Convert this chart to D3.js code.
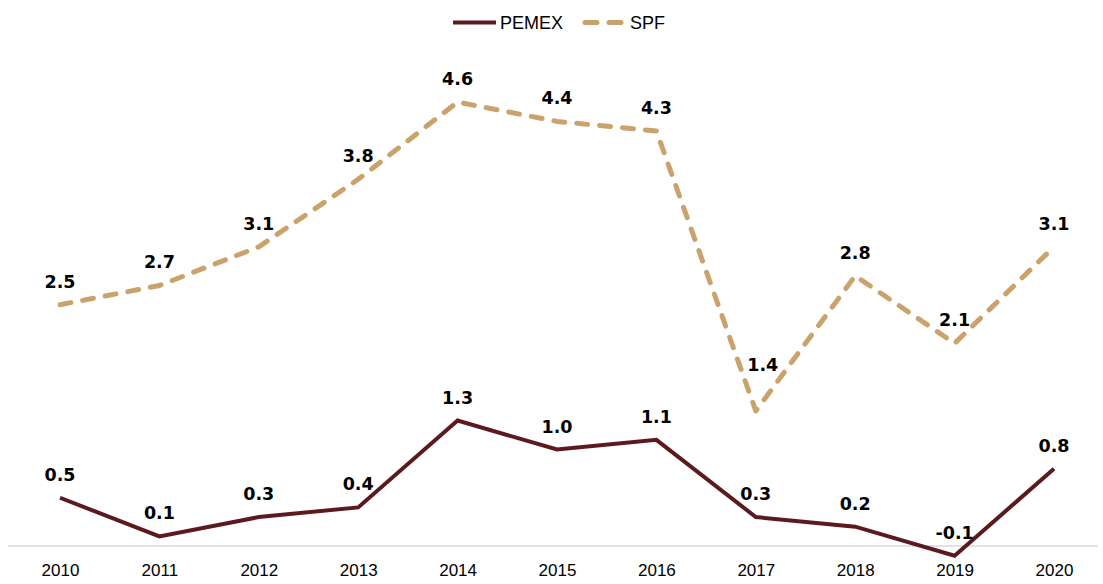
<!DOCTYPE html>
<html>
<head>
<meta charset="utf-8">
<script src="https://cdn.jsdelivr.net/npm/d3@7"></script>
<style>
  body { margin: 0; background: #fff; }
</style>
</head>
<body>
<div id="chart"></div>
<script>
const years = [2010, 2011, 2012, 2013, 2014, 2015, 2016, 2017, 2018, 2019, 2020];
const pemex = [0.5, 0.1, 0.3, 0.4, 1.3, 1.0, 1.1, 0.3, 0.2, -0.1, 0.8];
const spf = [2.5, 2.7, 3.1, 3.8, 4.6, 4.4, 4.3, 1.4, 2.8, 2.1, 3.1];
const seriesNames = ['PEMEX', 'SPF'];

const width = 1103,
  height = 584;

const pemexColor = '#5b1a1e',
  spfColor = '#c9a36b';

const svg = d3
  .select('#chart')
  .append('svg')
  .attr('width', width)
  .attr('height', height);

let x = d3.scalePoint().domain(years).range([60, 1054]);
let y = d3.scaleLinear().domain([0, 5]).range([546, 63.5]);

// baseline
svg
  .append('line')
  .attr('x1', 8)
  .attr('x2', 1098)
  .attr('y1', y(0))
  .attr('y2', y(0))
  .attr('stroke', '#d9d9d9')
  .attr('stroke-width', 1.5);

// x axis labels
let xAxis = (g) =>
  g
    .attr('transform', `translate(0,${y(0)})`)
    .call(d3.axisBottom(x).tickSize(0).tickPadding(18))
    .call((g) => g.select('.domain').remove())
    .call((g) =>
      g
        .selectAll('.tick text')
        .attr('font-family', 'Liberation Sans, Arial, sans-serif')
        .attr('font-size', 17)
        .attr('fill', '#000')
    );
svg.append('g').call(xAxis);

let line = (vals) =>
  d3
    .line()
    .x((d, i) => x(years[i]))
    .y((d) => y(d))(vals);

svg
  .append('path')
  .attr('fill', 'none')
  .attr('stroke', spfColor)
  .attr('stroke-width', 5)
  .attr('stroke-linecap', 'round')
  .attr('stroke-linejoin', 'round')
  .attr('stroke-dasharray', '11,12')
  .attr('d', line(spf));

svg
  .append('path')
  .attr('fill', 'none')
  .attr('stroke', pemexColor)
  .attr('stroke-width', 4)
  .attr('stroke-linejoin', 'miter')
  .attr('d', line(pemex));

// data labels
function addLabels(vals, name) {
  svg
    .append('g')
    .selectAll('text')
    .data(vals)
    .enter()
    .append('text')
    .attr('x', (d, i) => x(years[i]) + (name === 'SPF' && years[i] === 2017 ? 7 : 0))
    .attr('y', (d, i) => y(d) - (name === 'SPF' && years[i] === 2017 ? 40 : 17))
    .attr('text-anchor', 'middle')
    .attr('font-family', 'DejaVu Sans, Verdana, sans-serif')
    .attr('font-weight', 'bold')
    .attr('font-size', 17.5)
    .attr('fill', '#000')
    .text((d) => d3.format('.1f')(d).replace('−', '-'));
}
addLabels(spf, 'SPF');
addLabels(pemex, 'PEMEX');

// legend
const legend = svg.append('g');
legend
  .append('line')
  .attr('x1', 453)
  .attr('x2', 496)
  .attr('y1', 22.5)
  .attr('y2', 22.5)
  .attr('stroke', pemexColor)
  .attr('stroke-width', 4);
legend
  .append('text')
  .attr('x', 500)
  .attr('y', 28.5)
  .attr('font-family', 'Liberation Sans, Arial, sans-serif')
  .attr('font-size', 18)
  .attr('fill', '#000')
  .text(seriesNames[0]);
legend
  .append('line')
  .attr('x1', 585)
  .attr('x2', 624)
  .attr('y1', 22.5)
  .attr('y2', 22.5)
  .attr('stroke', spfColor)
  .attr('stroke-width', 5)
  .attr('stroke-linecap', 'round')
  .attr('stroke-dasharray', '12,12');
legend
  .append('text')
  .attr('x', 630)
  .attr('y', 28.5)
  .attr('font-family', 'Liberation Sans, Arial, sans-serif')
  .attr('font-size', 18)
  .attr('fill', '#000')
  .text(seriesNames[1]);
</script>
</body>
</html>
